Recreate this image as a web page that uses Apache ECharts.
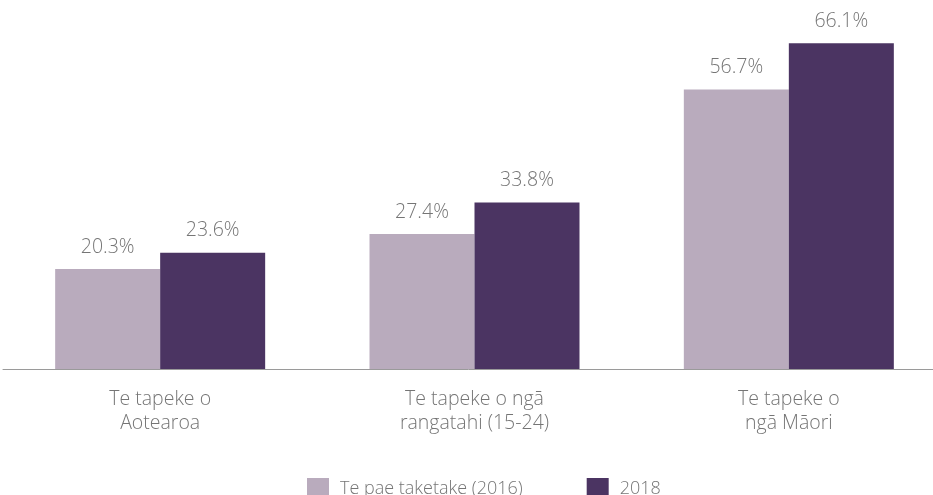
<!DOCTYPE html>
<html>
<head>
<meta charset="utf-8">
<script src="https://cdn.jsdelivr.net/npm/echarts@6/dist/echarts.min.js"></script>
<style>html,body{margin:0;padding:0;background:#fff}#c{width:933px;height:495px}</style>
</head>
<body>
<div id="c"></div>
<script>
const categories = ['Te tapeke o\nAotearoa', 'Te tapeke o ngā\nrangatahi (15-24)', 'Te tapeke o\nngā Māori'];
const seriesNames = ['Te pae taketake (2016)', '2018'];
const values2016 = [20.3, 27.4, 56.7];
const values2018 = [23.6, 33.8, 66.1];

const FONT = '"Open Sans"';
const TEXT = '#757575';
const chart = echarts.init(document.getElementById('c'), null, {renderer: 'canvas'});
const labelCfg = {
  show: true, position: 'top', distance: 12,
  color: TEXT, fontFamily: FONT, fontWeight: 300, fontSize: 19.5,
  formatter: p => p.value.toFixed(1) + '%'
};
chart.setOption({
  animation: false,
  color: ['#b9abbd', '#4b3462'],
  grid: {left: 3, width: 943, top: 24, bottom: 126, outerBoundsMode: 'none', containLabel: false},
  legend: {
    left: 302, top: 473, itemWidth: 22, itemHeight: 22, itemGap: 64,
    icon: 'rect',
    textStyle: {color: TEXT, fontFamily: FONT, fontWeight: 300, fontSize: 18, padding: [14, 0, 0, 6]},
    data: seriesNames
  },
  xAxis: {
    type: 'category', data: categories,
    axisLine: {lineStyle: {color: '#9a9a9a', width: 1}},
    axisTick: {show: false},
    axisLabel: {color: TEXT, fontFamily: FONT, fontWeight: 300, fontSize: 19.5, lineHeight: 24, margin: 18}
  },
  yAxis: {type: 'value', min: 0, max: 70, show: false, splitLine: {show: false}},
  series: [
    {name: seriesNames[0], type: 'bar', data: values2016, barWidth: 105, barGap: '0%', label: labelCfg},
    {name: seriesNames[1], type: 'bar', data: values2018, barWidth: 105, barGap: '0%', label: labelCfg}
  ]
});
</script>
</body>
</html>
